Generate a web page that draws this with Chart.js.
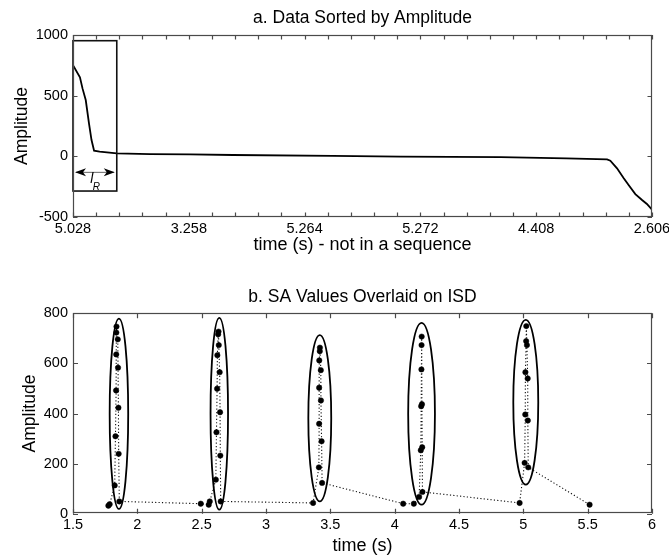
<!DOCTYPE html>
<html>
<head>
<meta charset="utf-8">
<script src="https://cdn.jsdelivr.net/npm/chart.js@4"></script>
<style>
    html, body { margin: 0; padding: 0; background: #fff; }
    canvas { display: block; }
</style>
</head>
<body>
<canvas id="sortedChart" width="669" height="279"></canvas>
<canvas id="isdChart" width="669" height="279"></canvas>
<script>
// panel a: amplitudes sorted high to low, x is the rank position
const sortedRank = [0, 0.30, 0.41, 0.55, 0.69, 0.80, 0.91, 1.15, 1.89, 3.33, 5.05, 6.9, 11.2, 14.15, 18.47, 21.3, 23.06, 23.2, 23.49, 23.78, 23.99, 24.28, 24.57, 24.78, 25];
const sortedAmp = [752, 651, 560, 464, 272, 134, 46, 38, 25, 19, 16, 11, 3, -3, -6, -17, -25, -36, -99, -181, -237, -311, -360, -393, -440];
const sortedTickLabels = ["5.028", "3.258", "5.264", "5.272", "4.408", "2.606"];
const sortedYTicks = [-500, 0, 500, 1000];

// the l_R window drawn over the top of the sorted data
const windowStart = 0;
const windowEnd = 1.89;
const windowTop = 953;
const windowBottom = -286;
const windowArrowAmp = -132;

// panel b: SA values in time order
const isdTime = [
    1.775, 1.785, 1.824, 1.830, 1.835, 1.836, 1.837, 1.838, 1.848, 1.850, 1.853, 1.855, 1.860,
    2.493, 2.555, 2.563, 2.610, 2.615, 2.620, 2.622, 2.628, 2.631, 2.633, 2.640, 2.643, 2.645, 2.648,
    3.366, 3.411, 3.413, 3.413, 3.414, 3.418, 3.419, 3.426, 3.427, 3.432, 3.436,
    4.066, 4.149, 4.190, 4.203, 4.206, 4.208, 4.209, 4.210, 4.212, 4.214, 4.216,
    4.971, 5.010, 5.015, 5.016, 5.022, 5.023, 5.028, 5.034, 5.035, 5.038, 5.515
];
const isdAmp = [
    32, 38, 113, 309, 492, 636, 723, 747, 696, 583, 423, 239, 49,
    40, 36, 49, 136, 325, 499, 633, 716, 727, 673, 565, 405, 232, 49,
    43, 185, 359, 503, 612, 649, 663, 573, 452, 289, 123,
    40, 40, 67, 253, 429, 576, 673, 707, 437, 265, 87,
    43, 203, 396, 565, 689, 749, 673, 540, 372, 185, 36
];
const isdXTicks = [1.5, 2, 2.5, 3, 3.5, 4, 4.5, 5, 5.5, 6];
const isdYTicks = [0, 200, 400, 600, 800];

// ellipses ringing each burst (centre and half extents in data units)
const ringTime = [1.857, 2.637, 3.418, 4.209, 5.019];
const ringAmp = [399, 399, 381, 399, 445];
const ringHalfTime = [0.072, 0.068, 0.089, 0.104, 0.097];
const ringHalfAmp = [380, 383, 332, 363, 329];

const FONT = "'Liberation Sans', Arial, Helvetica, sans-serif";
Chart.defaults.font.family = FONT;
Chart.defaults.color = "#000";

// matlab style axes box with ticks pointing inwards on all four sides
const axesBox = {
    id: "axesBox",
    afterDatasetsDraw(chart, args, opts) {
        const { ctx, chartArea: a, scales: { x, y } } = chart;
        const len = opts.tickLength || 5;
        ctx.save();
        ctx.strokeStyle = "#4a4a4a";
        ctx.lineWidth = 1.2;
        ctx.beginPath();
        x.ticks.forEach(t => {
            const px = Math.round(x.getPixelForValue(t.value)) + 0.5;
            ctx.moveTo(px, a.bottom);
            ctx.lineTo(px, a.bottom - len);
            ctx.moveTo(px, a.top);
            ctx.lineTo(px, a.top + len);
        });
        y.ticks.forEach(t => {
            const py = Math.round(y.getPixelForValue(t.value)) + 0.5;
            ctx.moveTo(a.left, py);
            ctx.lineTo(a.left + len, py);
            ctx.moveTo(a.right, py);
            ctx.lineTo(a.right - len, py);
        });
        ctx.stroke();
        ctx.strokeRect(Math.round(a.left) + 0.5, Math.round(a.top) + 0.5,
            Math.round(a.width) - 1, Math.round(a.height) - 1);
        ctx.restore();
    }
};

function arrowHead(ctx, tipX, tipY, dir) {
    ctx.beginPath();
    ctx.moveTo(tipX, tipY);
    ctx.lineTo(tipX + dir * 11, tipY - 4);
    ctx.lineTo(tipX + dir * 8, tipY);
    ctx.lineTo(tipX + dir * 11, tipY + 4);
    ctx.closePath();
    ctx.fill();
}

const windowMarker = {
    id: "windowMarker",
    afterDatasetsDraw(chart) {
        const { ctx, scales: { x, y } } = chart;
        const x0 = x.getPixelForValue(windowStart);
        const x1 = x.getPixelForValue(windowEnd);
        const y0 = y.getPixelForValue(windowTop);
        const y1 = y.getPixelForValue(windowBottom);
        const ya = y.getPixelForValue(windowArrowAmp);
        ctx.save();
        ctx.strokeStyle = "#111";
        ctx.lineWidth = 1.6;
        ctx.strokeRect(x0, y0, x1 - x0, y1 - y0);

        ctx.strokeStyle = "#666";
        ctx.lineWidth = 1;
        ctx.beginPath();
        ctx.moveTo(x0 + 3, ya);
        ctx.lineTo(x1 - 3, ya);
        ctx.stroke();
        ctx.fillStyle = "#000";
        arrowHead(ctx, x0 + 2, ya, 1);
        arrowHead(ctx, x1 - 2, ya, -1);

        const mid = (x0 + x1) / 2;
        ctx.textAlign = "center";
        ctx.textBaseline = "middle";
        ctx.font = "italic 14px " + FONT;
        ctx.fillText("l", mid - 3, ya + 7);
        ctx.font = "italic 10px " + FONT;
        ctx.fillText("R", mid + 1.5, ya + 15);
        ctx.restore();
    }
};

const burstRings = {
    id: "burstRings",
    afterDatasetsDraw(chart) {
        const { ctx, scales: { x, y } } = chart;
        ctx.save();
        ctx.strokeStyle = "#000";
        ctx.lineWidth = 1.8;
        ringTime.forEach((t, i) => {
            const cx = x.getPixelForValue(t);
            const cy = y.getPixelForValue(ringAmp[i]);
            const rx = Math.abs(x.getPixelForValue(t + ringHalfTime[i]) - cx);
            const ry = Math.abs(y.getPixelForValue(ringAmp[i] + ringHalfAmp[i]) - cy);
            ctx.beginPath();
            ctx.ellipse(cx, cy, rx, ry, 0, 0, Math.PI * 2);
            ctx.stroke();
        });
        ctx.restore();
    }
};

function fixedAxis(size, isX) {
    return scale => {
        if (isX) scale.height = size; else scale.width = size;
        scale.paddingLeft = 0;
        scale.paddingRight = 0;
        scale.paddingTop = 0;
        scale.paddingBottom = 0;
    };
}

function setTicks(values) {
    return scale => {
        scale.ticks = values.map(v => ({ value: v }));
    };
}

function baseOptions(cfg) {
    return {
        responsive: false,
        animation: false,
        events: [],
        layout: { padding: { left: 0, right: 17, top: 0, bottom: 0 } },
        plugins: {
            legend: { display: false },
            tooltip: { enabled: false },
            title: {
                display: true,
                fullSize: false,
                text: cfg.title,
                color: "#000",
                font: { size: 17.5, weight: "normal", lineHeight: 1.2 },
                padding: { top: 8, bottom: cfg.titleGap }
            },
            axesBox: { tickLength: cfg.tickLength }
        },
        scales: {
            x: {
                type: "linear",
                min: cfg.xMin,
                max: cfg.xMax,
                grid: { display: false, drawTicks: false },
                border: { display: false },
                afterBuildTicks: setTicks(cfg.xTicks),
                afterFit: fixedAxis(cfg.xHeight, true),
                ticks: {
                    autoSkip: false,
                    maxRotation: 0,
                    padding: cfg.xPad,
                    color: "#000",
                    font: { size: 14.5, lineHeight: 1.2 },
                    callback: cfg.xLabel
                },
                title: {
                    display: true,
                    text: cfg.xTitle,
                    color: "#000",
                    font: { size: 18, lineHeight: 1.2 },
                    padding: { top: 0, bottom: cfg.xTitlePad }
                }
            },
            y: {
                type: "linear",
                min: cfg.yMin,
                max: cfg.yMax,
                grid: { display: false, drawTicks: false },
                border: { display: false },
                afterBuildTicks: setTicks(cfg.yTicks),
                afterFit: fixedAxis(73, false),
                ticks: {
                    padding: 5,
                    color: "#000",
                    font: { size: 14.5, lineHeight: 1.2 },
                    callback: v => String(v)
                },
                title: {
                    display: true,
                    text: "Amplitude",
                    color: "#000",
                    font: { size: 17.5, lineHeight: 1.2 },
                    padding: { top: cfg.yTitlePad, bottom: 0 }
                }
            }
        }
    };
}

// rank axis: labelled every 5th step, plain ticks in between
const rankTicks = [];
for (let i = 0; i <= (sortedTickLabels.length - 1) * 5; i++) rankTicks.push(i);

new Chart(document.getElementById("sortedChart"), {
    type: "line",
    data: {
        datasets: [{
            data: sortedRank.map((r, i) => ({ x: r, y: sortedAmp[i] })),
            borderColor: "#000",
            borderWidth: 1.8,
            pointRadius: 0,
            tension: 0
        }]
    },
    options: baseOptions({
        title: "a. Data Sorted by Amplitude",
        titleGap: 6,
        tickLength: 4.5,
        xMin: 0, xMax: rankTicks[rankTicks.length - 1],
        xTicks: rankTicks,
        xHeight: 62,
        xPad: 3,
        xLabel: v => (v % 5 === 0 ? sortedTickLabels[v / 5] : ""),
        xTitle: "time (s) - not in a sequence",
        xTitlePad: 23.4,
        yMin: -500, yMax: 1000,
        yTicks: sortedYTicks,
        yTitlePad: 11.5
    }),
    plugins: [windowMarker, axesBox]
});

new Chart(document.getElementById("isdChart"), {
    type: "line",
    data: {
        datasets: [{
            data: isdTime.map((t, i) => ({ x: t, y: isdAmp[i] })),
            showLine: true,
            borderColor: "#111",
            borderWidth: 1.1,
            borderDash: [1.2, 2.2],
            pointRadius: 2.7,
            pointBackgroundColor: "#000",
            pointBorderColor: "#000",
            pointBorderWidth: 0.5,
            tension: 0
        }]
    },
    options: baseOptions({
        title: "b. SA Values Overlaid on ISD",
        titleGap: 5.3,
        tickLength: 5,
        xMin: 1.5, xMax: 6,
        xTicks: isdXTicks,
        xHeight: 44.3,
        xPad: 3,
        xLabel: v => String(v),
        xTitle: "time (s)",
        xTitlePad: 1.4,
        yMin: 0, yMax: 800,
        yTicks: isdYTicks,
        yTitlePad: 19.5
    }),
    plugins: [burstRings, axesBox]
});
</script>
</body>
</html>
